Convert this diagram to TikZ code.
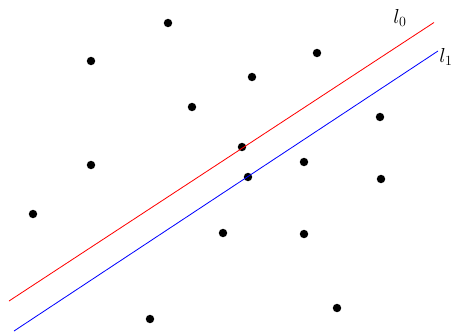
\documentclass[tikz,border=0pt]{standalone}
\usepackage{amsmath}
\usepackage{tikz}
\usetikzlibrary{positioning, calc}

\tikzset{
    pt/.style={circle, fill=black, inner sep=0pt, minimum size=7.2pt},
    lbl/.style={font=\LARGE, inner sep=1pt}
}

\begin{document}
\begin{tikzpicture}[x=0.03cm, y=-0.03cm]
        \path[use as bounding box] (0,0) rectangle (452,332);
        % sample points
        \foreach \x/\y [count=\i] in {168/23, 91/61, 317/53, 252/77, 192/107, 380/117, 242/147, 91/165, 304/162, 248/177, 381/179, 33/214, 223/233, 304/234, 337/308, 150/319} {
            \node[pt] (p\i) at (\x,\y) {};
        }
        % the two lines
        \coordinate (r0) at (9,301);
        \coordinate (r1) at (434,22.5);
        \coordinate (b0) at (14,331);
        \coordinate (b1) at (438,51);
        \draw[red, line width=0.7pt] (r0) -- (r1);
        \draw[blue, line width=0.7pt] (b0) -- (b1);
        \node[lbl] (l0) at (400,18) {$l_0$};
        \node[lbl] (l1) at (446,57) {$l_1$};
    \end{tikzpicture}
\end{document}
